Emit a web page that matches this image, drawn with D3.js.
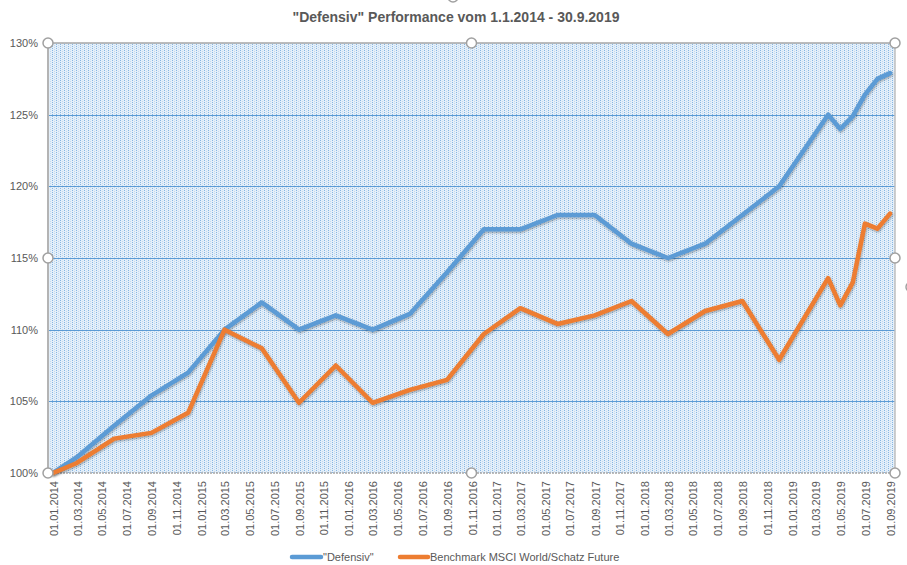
<!DOCTYPE html>
<html><head><meta charset="utf-8">
<script src="https://cdn.jsdelivr.net/npm/d3@7"></script>
<style>body{margin:0;background:#fff;} svg{display:block;font-family:"Liberation Sans",Arial,sans-serif;}</style>
</head><body><svg id="c" width="907" height="565"></svg>
<script>
const title = '"Defensiv" Performance vom 1.1.2014 - 30.9.2019';
const seriesNames = ['"Defensiv"', 'Benchmark MSCI World/Schatz Future'];
const dates = ["01.01.2014","01.03.2014","01.06.2014","01.09.2014","01.12.2014",
  "01.03.2015","01.06.2015","01.09.2015","01.12.2015",
  "01.03.2016","01.06.2016","01.09.2016","01.12.2016",
  "01.03.2017","01.06.2017","01.09.2017","01.12.2017",
  "01.03.2018","01.06.2018","01.09.2018","01.12.2018",
  "01.04.2019","01.05.2019","01.06.2019","01.07.2019","01.08.2019","01.09.2019"];
const defensiv = [100, 101.1, 103.3, 105.4, 107.0,
  110.0, 111.9, 110.0, 111.0,
  110.0, 111.1, 114.0, 117.0,
  117.0, 118.0, 118.0, 116.0,
  115.0, 116.0, 118.0, 120.0,
  125.0, 124.0, 124.9, 126.4, 127.5, 127.9];
const benchmark = [100, 100.7, 102.4, 102.8, 104.2,
  110.0, 108.7, 104.9, 107.5,
  104.9, 105.8, 106.5, 109.7,
  111.5, 110.4, 111.0, 112.0,
  109.7, 111.3, 112.0, 107.9,
  113.6, 111.7, 113.3, 117.4, 117.05, 118.1];
const yTicks = [100, 105, 110, 115, 120, 125, 130];
const xTickLabels = ["01.01.2014","01.03.2014","01.05.2014","01.07.2014","01.09.2014","01.11.2014",
  "01.01.2015","01.03.2015","01.05.2015","01.07.2015","01.09.2015","01.11.2015",
  "01.01.2016","01.03.2016","01.05.2016","01.07.2016","01.09.2016","01.11.2016",
  "01.01.2017","01.03.2017","01.05.2017","01.07.2017","01.09.2017","01.11.2017",
  "01.01.2018","01.03.2018","01.05.2018","01.07.2018","01.09.2018","01.11.2018",
  "01.01.2019","01.03.2019","01.05.2019","01.07.2019","01.09.2019"];
const colors = ["#5b9bd5", "#ed7d31"];

const parse = d3.timeParse("%d.%m.%Y");
const svg = d3.select("#c");
const P = {l: 48, r: 895, t: 43, b: 473};

const x = d3.scaleTime().domain([parse("01.01.2014"), parse("01.09.2019")]).range([53, 890]);
const y = d3.scaleLinear().domain([100, 130]).range([P.b, P.t]);

const defs = svg.append("defs");
const pat = defs.append("pattern").attr("id", "dots").attr("patternUnits", "userSpaceOnUse")
  .attr("x", 0).attr("y", 0).attr("width", 4).attr("height", 2);
pat.append("rect").attr("width", 4).attr("height", 2).attr("fill", "#e4eff9");
pat.append("rect").attr("x", 0).attr("y", 0).attr("width", 1).attr("height", 1).attr("fill", "#86b6e3");
pat.append("rect").attr("x", 2).attr("y", 1).attr("width", 1).attr("height", 1).attr("fill", "#c2daf1");
const f = defs.append("filter").attr("id", "sh").attr("x", "-5%").attr("y", "-5%").attr("width", "110%").attr("height", "110%");
f.append("feDropShadow").attr("dx", 0.6).attr("dy", 1.2).attr("stdDeviation", 0.9)
  .attr("flood-color", "#000").attr("flood-opacity", 0.35);

// title
svg.append("text").attr("x", 456).attr("y", 22).attr("text-anchor", "middle")
  .attr("font-size", 14).attr("font-weight", "bold").attr("fill", "#595959").text(title);

// plot background
svg.append("rect").attr("x", P.l).attr("y", P.t).attr("width", P.r - P.l).attr("height", P.b - P.t)
  .attr("fill", "url(#dots)").attr("shape-rendering", "crispEdges");

// gridlines
svg.append("g").selectAll("line").data(yTicks.filter(v => v > 100 && v < 130)).join("line")
  .attr("x1", P.l).attr("x2", P.r).attr("y1", d => Math.round(y(d)) + 0.5).attr("y2", d => Math.round(y(d)) + 0.5)
  .attr("stroke", "#5b9bd5").attr("stroke-width", 1);

// borders
svg.append("line").attr("x1", P.l).attr("x2", P.r).attr("y1", P.t).attr("y2", P.t).attr("stroke", "#a6a6a6").attr("stroke-width", 1.5);
svg.append("line").attr("x1", P.r).attr("x2", P.r).attr("y1", P.t).attr("y2", P.b).attr("stroke", "#bfbfbf").attr("stroke-width", 1.5);
svg.append("line").attr("x1", P.l).attr("x2", P.l).attr("y1", P.t).attr("y2", P.b).attr("stroke", "#b4b4b4").attr("stroke-width", 2);
svg.append("line").attr("x1", P.l).attr("x2", P.r).attr("y1", P.b).attr("y2", P.b).attr("stroke", "#a6a6a6").attr("stroke-width", 1.5).attr("stroke-dasharray", "2,1");

// y axis labels
svg.append("g").selectAll("text").data(yTicks).join("text")
  .attr("x", 38).attr("y", d => y(d)).attr("dy", "0.35em").attr("text-anchor", "end")
  .attr("font-size", 11).attr("fill", "#595959").text(d => d + "%");

// x axis labels
svg.append("g").selectAll("text").data(xTickLabels).join("text")
  .attr("transform", d => `translate(${x(parse(d)) + 1},481) rotate(-90)`)
  .attr("dy", "0.35em").attr("text-anchor", "end")
  .attr("font-size", 11).attr("fill", "#595959").text(d => d);

// lines
const line = d3.line().x(d => x(d[0])).y(d => y(d[1]));
[defensiv, benchmark].forEach((vals, i) => {
  const pts = dates.map((d, j) => [parse(d), vals[j]]);
  svg.append("path").datum(pts).attr("d", line).attr("fill", "none")
    .attr("stroke", colors[i]).attr("stroke-width", 4.5).attr("stroke-linejoin", "round").attr("stroke-linecap", "round")
    .attr("filter", "url(#sh)");
});

// selection handles
const handles = [[P.l, P.t], [(P.l + P.r) / 2, P.t], [P.r, P.t], [P.l, (P.t + P.b) / 2], [P.r, (P.t + P.b) / 2],
  [P.l, P.b], [(P.l + P.r) / 2, P.b], [P.r, P.b], [911, 287], [453, -3]];
svg.append("g").selectAll("circle").data(handles).join("circle")
  .attr("cx", d => d[0]).attr("cy", d => d[1]).attr("r", 5)
  .attr("fill", "#fff").attr("stroke", "#a0a0a0").attr("stroke-width", 1.5);

// legend
const lg = svg.append("g");
const leg = [{x1: 292, x2: 321, tx: 323}, {x1: 400, x2: 428, tx: 430}];
leg.forEach((L, i) => {
  lg.append("line").attr("x1", L.x1).attr("x2", L.x2).attr("y1", 557).attr("y2", 557)
    .attr("stroke", colors[i]).attr("stroke-width", 4.5).attr("stroke-linecap", "round");
  lg.append("text").attr("x", L.tx).attr("y", 557).attr("dy", "0.35em")
    .attr("font-size", 11).attr("fill", "#595959").text(seriesNames[i]);
});
</script></body></html>
